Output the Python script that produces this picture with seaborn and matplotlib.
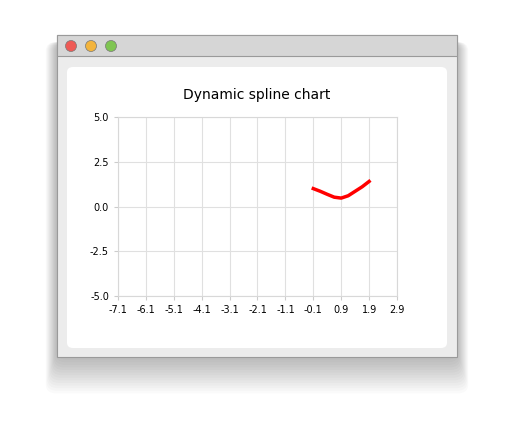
import numpy as np
import pandas as pd
import seaborn as sns
import matplotlib.pyplot as plt
from matplotlib.patches import FancyBboxPatch, Rectangle, Ellipse

xs = [-0.1, 0.15, 0.4, 0.65, 0.9, 1.15, 1.4, 1.65, 1.9]
ys = [1.0, 0.85, 0.68, 0.52, 0.47, 0.6, 0.85, 1.1, 1.4]
x_ticks = [-7.1, -6.1, -5.1, -4.1, -3.1, -2.1, -1.1, -0.1, 0.9, 1.9, 2.9]
y_ticks = [-5.0, -2.5, 0.0, 2.5, 5.0]

W, H = 514, 436
fig = plt.figure(figsize=(W / 100, H / 100), dpi=100)
fig.patch.set_facecolor("white")

def px(x0, y0, x1, y1):
    # pixel box (top-left origin) -> figure fraction box
    return x0 / W, 1 - y1 / H, (x1 - x0) / W, (y1 - y0) / H

# window shadow
for i in range(14, 0, -1):
    x, y, w, h = px(57 - i * 0.8, 42, 457 + i * 0.8, 357 + i * 2.6)
    fig.patches.append(FancyBboxPatch((x, y), w, h, boxstyle="round,pad=0,rounding_size=0.02",
                                      transform=fig.transFigure, facecolor="black",
                                      alpha=0.018, edgecolor="none"))
# window body
x, y, w, h = px(57, 35, 457, 357)
fig.patches.append(Rectangle((x, y), w, h, transform=fig.transFigure,
                             facecolor="#ececec", edgecolor="#9a9a9a", lw=0.8))
# title bar
x, y, w, h = px(57, 35, 457, 56)
fig.patches.append(Rectangle((x, y), w, h, transform=fig.transFigure,
                             facecolor="#d6d6d6", edgecolor="#9a9a9a", lw=0.8))
for cx, col in [(71, "#ee5a55"), (91, "#f3b43c"), (111, "#7fc552")]:
    fig.patches.append(Ellipse((cx / W, 1 - 46 / H), 11 / W, 11 / H, transform=fig.transFigure,
                               facecolor=col, edgecolor="#777777", lw=0.5))
# chart panel
x, y, w, h = px(67, 67, 447, 348)
fig.patches.append(FancyBboxPatch((x, y), w, h, boxstyle="round,pad=0,rounding_size=0.012",
                                  transform=fig.transFigure, facecolor="white", edgecolor="none"))

fig.text(257 / W, 1 - 95 / H, "Dynamic spline chart", ha="center", va="center", fontsize=10)

ax = fig.add_axes(px(118, 117, 397, 296))
ax.set_zorder(5)
df = pd.DataFrame({"x": xs, "y": ys})
sns.lineplot(data=df, x="x", y="y", ax=ax, color="red", linewidth=2.5)
ax.set_xlim(-7.1, 2.9)
ax.set_ylim(-5, 5)
ax.set_xticks(x_ticks)
ax.set_xticklabels([f"{t:.1f}" for t in x_ticks])
ax.set_yticks(y_ticks)
ax.set_yticklabels([f"{t:.1f}" for t in y_ticks])
ax.set_xlabel("")
ax.set_ylabel("")
ax.grid(True, color="#e0e0e0", lw=0.8)
ax.set_axisbelow(True)
ax.tick_params(labelsize=7, length=3, color="#cccccc")
for s in ax.spines.values():
    s.set_color("#d8d8d8")
ax.set_facecolor("white")

fig.savefig("out.png", dpi=100)
